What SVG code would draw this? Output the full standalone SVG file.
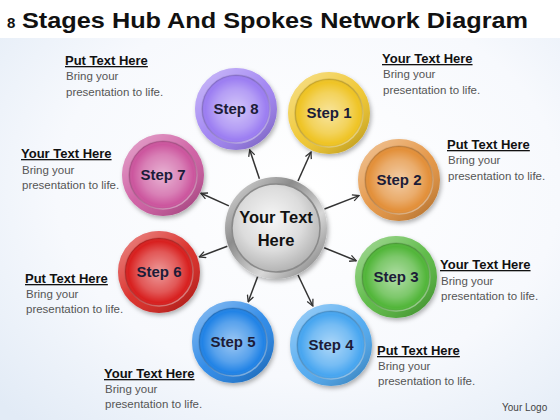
<svg xmlns="http://www.w3.org/2000/svg" width="560" height="420" viewBox="0 0 560 420">
<defs>
<radialGradient id="bg" cx="0.55" cy="0.45" r="0.75">
<stop offset="0" stop-color="#ffffff"/>
<stop offset="0.6" stop-color="#f7f9fd"/>
<stop offset="1" stop-color="#e2ebf6"/>
</radialGradient>
<linearGradient id="ringShade" x1="0.15" y1="0.1" x2="0.85" y2="0.95">
<stop offset="0" stop-color="#ffffff" stop-opacity="0.4"/>
<stop offset="0.5" stop-color="#ffffff" stop-opacity="0.08"/>
<stop offset="1" stop-color="#000000" stop-opacity="0.2"/>
</linearGradient>
<radialGradient id="innerGlow" cx="0.5" cy="0.5" r="0.5">
<stop offset="0" stop-color="#ffffff" stop-opacity="0.55"/>
<stop offset="0.6" stop-color="#ffffff" stop-opacity="0.25"/>
<stop offset="0.9" stop-color="#ffffff" stop-opacity="0"/>
<stop offset="1" stop-color="#000000" stop-opacity="0.1"/>
</radialGradient>
<linearGradient id="innerEdge" x1="0.2" y1="0.1" x2="0.8" y2="0.95">
<stop offset="0" stop-color="#000000" stop-opacity="0.1"/>
<stop offset="1" stop-color="#ffffff" stop-opacity="0.45"/>
</linearGradient>
<linearGradient id="hubRing" x1="0" y1="0" x2="1" y2="1">
<stop offset="0" stop-color="#e6e6e6"/>
<stop offset="0.35" stop-color="#8c8c8c"/>
<stop offset="0.65" stop-color="#d8d8d8"/>
<stop offset="1" stop-color="#6e6e6e"/>
</linearGradient>
<radialGradient id="hubCore" cx="0.45" cy="0.4" r="0.6">
<stop offset="0" stop-color="#f6f6f6"/>
<stop offset="0.6" stop-color="#dcdcdc"/>
<stop offset="1" stop-color="#b4b4b4"/>
</radialGradient>
<filter id="shadow" x="-30%" y="-30%" width="160%" height="160%">
<feDropShadow dx="1.5" dy="2.5" stdDeviation="2" flood-color="#000" flood-opacity="0.3"/>
</filter>
<marker id="arrow" viewBox="0 0 10 10" refX="9" refY="5" markerWidth="8" markerHeight="8" markerUnits="userSpaceOnUse" orient="auto">
<path d="M1,1 L9,5 L1,9" fill="none" stroke="#333" stroke-width="1.6"/>
</marker>
</defs>
<style>
.title{font-family:"Liberation Sans",Arial,sans-serif;font-weight:bold;fill:#111}
.step{font-family:"Liberation Sans",Arial,sans-serif;font-weight:bold;font-size:15px;fill:#1c1c38;text-anchor:middle}
.hub{font-family:"Liberation Sans",Arial,sans-serif;font-weight:bold;font-size:16.5px;fill:#111;text-anchor:middle}
.head{font-family:"Liberation Sans",Arial,sans-serif;font-weight:bold;font-size:13px;fill:#111;text-decoration:underline}
.body{font-family:"Liberation Sans",Arial,sans-serif;font-size:11.5px;fill:#555}
.logo{font-family:"Liberation Sans",Arial,sans-serif;font-size:10px;fill:#444}
.conn line{stroke:#333;stroke-width:1.5;marker-end:url(#arrow)}
</style>
<rect x="0" y="0" width="560" height="420" fill="url(#bg)"/>
<rect x="0" y="0" width="560" height="38" fill="#ffffff"/>
<text class="title" x="7" y="28" font-size="15">8</text>
<text class="title" x="22" y="28" font-size="22" textLength="506" lengthAdjust="spacingAndGlyphs">Stages Hub And Spokes Network Diagram</text>

<g id="connectors" class="conn">
<line x1="298" y1="181" x2="311" y2="152"/>
<line x1="324.5" y1="209" x2="359" y2="195.6"/>
<line x1="324.2" y1="247.7" x2="356.2" y2="260.7"/>
<line x1="298" y1="275" x2="312.8" y2="306"/>
<line x1="257.6" y1="276.7" x2="248.2" y2="301.8"/>
<line x1="227.3" y1="246.3" x2="199.2" y2="256.9"/>
<line x1="228.9" y1="205.9" x2="200.9" y2="193.3"/>
<line x1="259.4" y1="178.7" x2="249.7" y2="149.8"/>
</g>

<g id="hub" transform="translate(276,228)">
<circle r="51" fill="url(#hubRing)" filter="url(#shadow)"/>
<circle r="44" fill="url(#hubCore)"/>
<circle r="44" fill="none" stroke="#8a8a8a" stroke-width="1.5"/>
<text class="hub" y="-5">Your Text</text>
<text class="hub" y="18">Here</text>
</g>

<g id="step1" transform="translate(329,113)">
<circle r="41" fill="#efc425" filter="url(#shadow)"/>
<circle r="41" fill="url(#ringShade)"/>
<circle r="34" fill="#efc425"/>
<circle r="34" fill="url(#innerGlow)"/>
<circle r="34" fill="none" stroke="url(#innerEdge)" stroke-width="1.5"/>
<text class="step" y="5">Step 1</text>
</g>
<g id="step2" transform="translate(399,180)">
<circle r="41" fill="#e3903a" filter="url(#shadow)"/>
<circle r="41" fill="url(#ringShade)"/>
<circle r="34" fill="#e3903a"/>
<circle r="34" fill="url(#innerGlow)"/>
<circle r="34" fill="none" stroke="url(#innerEdge)" stroke-width="1.5"/>
<text class="step" y="5">Step 2</text>
</g>
<g id="step3" transform="translate(396,277)">
<circle r="41" fill="#52b63a" filter="url(#shadow)"/>
<circle r="41" fill="url(#ringShade)"/>
<circle r="34" fill="#52b63a"/>
<circle r="34" fill="url(#innerGlow)"/>
<circle r="34" fill="none" stroke="url(#innerEdge)" stroke-width="1.5"/>
<text class="step" y="5">Step 3</text>
</g>
<g id="step4" transform="translate(331,345)">
<circle r="41" fill="#48a6f0" filter="url(#shadow)"/>
<circle r="41" fill="url(#ringShade)"/>
<circle r="34" fill="#48a6f0"/>
<circle r="34" fill="url(#innerGlow)"/>
<circle r="34" fill="none" stroke="url(#innerEdge)" stroke-width="1.5"/>
<text class="step" y="5">Step 4</text>
</g>
<g id="step5" transform="translate(233,342)">
<circle r="41" fill="#2183e6" filter="url(#shadow)"/>
<circle r="41" fill="url(#ringShade)"/>
<circle r="34" fill="#2183e6"/>
<circle r="34" fill="url(#innerGlow)"/>
<circle r="34" fill="none" stroke="url(#innerEdge)" stroke-width="1.5"/>
<text class="step" y="5">Step 5</text>
</g>
<g id="step6" transform="translate(159,272)">
<circle r="41" fill="#d8201f" filter="url(#shadow)"/>
<circle r="41" fill="url(#ringShade)"/>
<circle r="34" fill="#d8201f"/>
<circle r="34" fill="url(#innerGlow)"/>
<circle r="34" fill="none" stroke="url(#innerEdge)" stroke-width="1.5"/>
<text class="step" y="5">Step 6</text>
</g>
<g id="step7" transform="translate(163,175)">
<circle r="41" fill="#cc569e" filter="url(#shadow)"/>
<circle r="41" fill="url(#ringShade)"/>
<circle r="34" fill="#cc569e"/>
<circle r="34" fill="url(#innerGlow)"/>
<circle r="34" fill="none" stroke="url(#innerEdge)" stroke-width="1.5"/>
<text class="step" y="5">Step 7</text>
</g>
<g id="step8" transform="translate(236,109)">
<circle r="41" fill="#9c7ef2" filter="url(#shadow)"/>
<circle r="41" fill="url(#ringShade)"/>
<circle r="34" fill="#9c7ef2"/>
<circle r="34" fill="url(#innerGlow)"/>
<circle r="34" fill="none" stroke="url(#innerEdge)" stroke-width="1.5"/>
<text class="step" y="5">Step 8</text>
</g>

<g id="text8">
<text class="head" x="65" y="65">Put Text Here</text>
<text class="body" x="66" y="80">Bring your</text>
<text class="body" x="66" y="96">presentation to life.</text>
</g>
<g id="text1">
<text class="head" x="382" y="63">Your Text Here</text>
<text class="body" x="383" y="78">Bring your</text>
<text class="body" x="383" y="94">presentation to life.</text>
</g>
<g id="text2">
<text class="head" x="447" y="149">Put Text Here</text>
<text class="body" x="448" y="164">Bring your</text>
<text class="body" x="448" y="180">presentation to life.</text>
</g>
<g id="text7">
<text class="head" x="21" y="158">Your Text Here</text>
<text class="body" x="22" y="174">Bring your</text>
<text class="body" x="22" y="189">presentation to life.</text>
</g>
<g id="text3">
<text class="head" x="440" y="269">Your Text Here</text>
<text class="body" x="441" y="285">Bring your</text>
<text class="body" x="441" y="300">presentation to life.</text>
</g>
<g id="text6">
<text class="head" x="25" y="283">Put Text Here</text>
<text class="body" x="26" y="298">Bring your</text>
<text class="body" x="26" y="313">presentation to life.</text>
</g>
<g id="text4">
<text class="head" x="377" y="355">Put Text Here</text>
<text class="body" x="378" y="370">Bring your</text>
<text class="body" x="378" y="385">presentation to life.</text>
</g>
<g id="text5">
<text class="head" x="104" y="378">Your Text Here</text>
<text class="body" x="105" y="393">Bring your</text>
<text class="body" x="105" y="408">presentation to life.</text>
</g>
<text class="logo" x="502" y="411">Your Logo</text>
</svg>
